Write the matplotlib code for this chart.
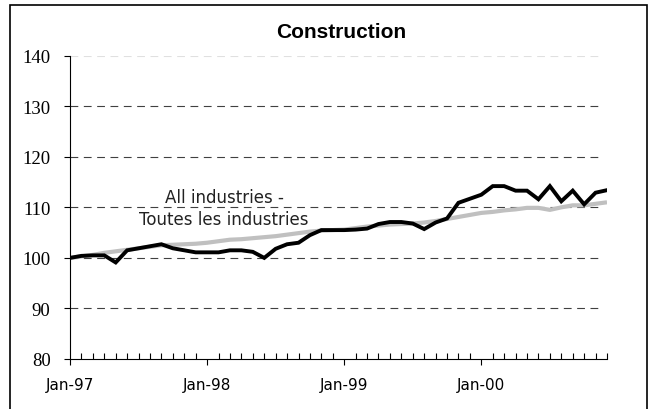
import numpy as np
import matplotlib
matplotlib.use("Agg")
import matplotlib.pyplot as plt
from matplotlib.patches import Rectangle
from matplotlib.ticker import MultipleLocator

# Monthly index, Jan-97 = 100 (Jan-97 .. Dec-00)
construction = [100.0, 100.4, 100.5, 100.5, 99.1, 101.5, 101.9, 102.3, 102.7, 101.9, 101.5, 101.1,
                101.1, 101.1, 101.5, 101.5, 101.2, 100.0, 101.8, 102.7, 103.0, 104.5, 105.5, 105.5,
                105.5, 105.6, 105.8, 106.7, 107.1, 107.1, 106.8, 105.7, 107.0, 107.8, 110.9, 111.7,
                112.5, 114.2, 114.2, 113.3, 113.3, 111.6, 114.2, 111.2, 113.3, 110.6, 112.9, 113.4]
all_industries = [100.0, 100.3, 100.6, 101.0, 101.3, 101.6, 101.9, 102.2, 102.5, 102.6, 102.7, 102.8,
                  103.0, 103.3, 103.6, 103.7, 103.9, 104.1, 104.3, 104.6, 104.9, 105.2, 105.4, 105.5,
                  105.6, 105.9, 106.2, 106.4, 106.6, 106.7, 106.8, 107.0, 107.3, 107.7, 108.1, 108.5,
                  108.9, 109.1, 109.4, 109.6, 109.9, 109.9, 109.5, 110.0, 110.4, 110.4, 110.7, 111.0]
year_labels = ["Jan-97", "Jan-98", "Jan-99", "Jan-00"]
title = "Construction"
note = "All industries -\nToutes les industries"

months = np.arange(len(construction))

fig = plt.figure(figsize=(6.5, 4.1), dpi=100)
ax = fig.add_axes([70 / 650, 1 - 360 / 410, (607 - 70) / 650, (360 - 56.7) / 410])

# grid lines (top one is faint)
for v in [90, 100, 110, 120, 130]:
    ax.axhline(v, xmax=0.987, color="#404040", lw=0.8, dashes=(7, 5), zorder=1)
ax.axhline(140, xmax=0.987, color="#e0e0e0", lw=0.8, dashes=(7, 5), zorder=1)

ax.plot(months, all_industries, color="#c0c0c0", lw=3.0, zorder=2, solid_capstyle="butt")
ax.plot(months, construction, color="black", lw=2.8, zorder=3, solid_joinstyle="miter")

ax.set_xlim(0, 47)
ax.set_ylim(80, 140)
ax.yaxis.set_major_locator(MultipleLocator(10))
ax.set_xticks([0, 12, 24, 36])
ax.set_xticklabels(year_labels, fontfamily="DejaVu Sans", fontsize=11)
ax.set_xticks(months, minor=True)
ax.tick_params(axis="x", which="major", direction="out", length=4, width=0.8, pad=9)
ax.tick_params(axis="x", which="minor", direction="in", length=4, width=0.8)
ax.tick_params(axis="y", which="major", direction="out", length=4, width=0.8, pad=10)
for lab in ax.get_yticklabels():
    lab.set_fontfamily("Liberation Serif")
    lab.set_fontsize(13.5)

for s in ["top", "right"]:
    ax.spines[s].set_visible(False)
for s in ["left", "bottom"]:
    ax.spines[s].set_linewidth(0.8)

ax.text(13.5, 109.9, note, ha="center", va="center", fontsize=12,
        fontfamily="DejaVu Sans", color="#222222", linespacing=1.3, zorder=4)

fig.text(341 / 650, 1 - 32 / 410, title, ha="center", va="center",
         fontsize=15, fontweight="bold", fontfamily="Liberation Sans")

# outer frame
fig.patches.append(Rectangle((10 / 650, -0.05), (647 - 10) / 650, 1.05 - 6 / 410,
                             transform=fig.transFigure, fill=False, lw=1.2, edgecolor="black"))

fig.savefig("out.png", dpi=100)
